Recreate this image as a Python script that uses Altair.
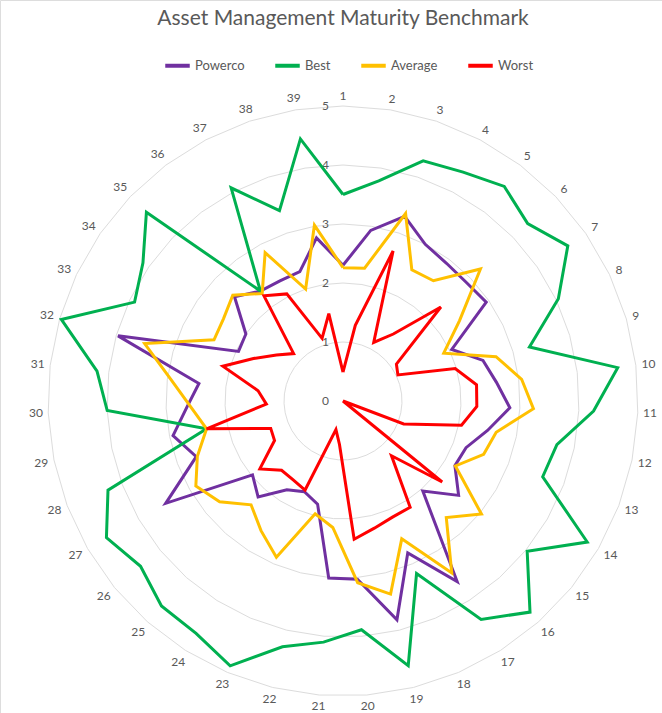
import math
import altair as alt
import pandas as pd

# ---------------- data ----------------
categories = [str(i) for i in range(1, 40)]
series_names = ["Powerco", "Best", "Average", "Worst"]
series_colors = ["#7030A0", "#00B050", "#FFC000", "#FF0000"]

powerco = [2.30, 2.93, 3.30, 3.00, 2.92, 2.90, 2.95, 2.04, 2.47, 2.62,
           2.83, 2.50, 2.23, 2.19, 2.53, 2.04, 3.62, 2.80, 3.82, 3.03,
           3.01, 1.80, 1.67, 1.78, 2.17, 1.98, 3.47, 2.66, 2.94, 2.65,
           2.46, 3.97, 1.96, 2.00, 2.55, 2.33, 2.30, 2.31, 2.80]
best = [3.50, 3.78, 4.29, 4.38, 4.55, 4.34, 4.63, 4.04, 3.29, 4.69,
        4.25, 3.70, 3.62, 4.78, 4.03, 4.78, 4.38, 3.18, 4.62, 3.89,
        4.10, 4.29, 4.88, 4.66, 4.64, 4.43, 4.63, 4.26, 2.36, 4.00,
        4.20, 4.97, 3.91, 4.12, 4.62, 2.33, 4.08, 3.40, 4.50]
average = [2.26, 2.28, 3.35, 2.51, 2.55, 3.23, 2.40, 1.89, 2.70, 3.05,
           3.23, 2.65, 2.55, 2.20, 3.03, 2.64, 3.45, 2.54, 3.37, 3.09,
           2.15, 1.97, 2.88, 2.60, 2.35, 2.70, 2.88, 2.64, 2.36, 2.58,
           2.93, 3.50, 2.42, 2.46, 2.59, 2.28, 2.84, 2.00, 3.02]
worst = [0.49, 1.30, 2.68, 1.12, 1.42, 2.30, 1.10, 1.03, 1.98, 2.28,
         2.27, 2.05, 1.10, 0.00, 2.17, 1.24, 2.13, 2.14, 2.22, 2.35,
         0.74, 0.50, 1.64, 1.58, 1.57, 1.82, 1.34, 1.31, 2.36, 1.30,
         1.45, 2.12, 1.68, 1.37, 1.16, 2.23, 2.05, 1.12, 1.50]
grid_levels = [0, 1, 2, 3, 4, 5]
title_text = "Asset Management Maturity Benchmark"

# ---------------- layout ----------------
W, H = 662, 713
CX, CY = 343, 401
UNIT = 59.0
FONT = "Lato"
GREY = "#595959"
N = len(categories)

xdom = [-CX / UNIT, (W - CX) / UNIT]
ydom = [-(H - CY) / UNIT, CY / UNIT]
xs = alt.Scale(domain=xdom, nice=False, zero=False)
ys = alt.Scale(domain=ydom, nice=False, zero=False)


def ang(k):
    return 2 * math.pi * k / N


rows = []
for name, vals in zip(series_names, [powerco, best, average, worst]):
    for j in range(N + 1):
        k = j % N
        v = vals[k]
        rows.append({"series": name, "idx": j, "x": v * math.sin(ang(k)),
                     "y": v * math.cos(ang(k)), "cat": categories[k], "value": v})
df = pd.DataFrame(rows)

grows = []
for lv in grid_levels[1:]:
    for j in range(N + 1):
        k = j % N
        grows.append({"level": lv, "idx": j, "x": lv * math.sin(ang(k)),
                      "y": lv * math.cos(ang(k))})
gdf = pd.DataFrame(grows)

lrows = []
for k, c in enumerate(categories):
    s, co = math.sin(ang(k)), math.cos(ang(k))
    w = 7.0 * len(c)
    r = (300 + abs(s) * w / 2 + abs(co) * 5.5) / UNIT
    lrows.append({"cat": c, "x": r * s, "y": r * co})
ldf = pd.DataFrame(lrows)

vdf = pd.DataFrame({"lab": [str(v) for v in grid_levels], "x": [0.0] * len(grid_levels),
                    "y": [float(v) for v in grid_levels]})

grid = alt.Chart(gdf).mark_line(color="#dcdcdc", strokeWidth=1).encode(
    x=alt.X("x:Q", scale=xs, axis=None),
    y=alt.Y("y:Q", scale=ys, axis=None),
    detail="level:N",
    order="idx:Q",
)

lines = alt.Chart(df).mark_line(strokeWidth=3, strokeJoin="miter").encode(
    x=alt.X("x:Q", scale=xs, axis=None),
    y=alt.Y("y:Q", scale=ys, axis=None),
    color=alt.Color(
        "series:N",
        sort=series_names,
        scale=alt.Scale(domain=series_names, range=series_colors),
        legend=alt.Legend(
            title=None, orient="none", legendX=163, legendY=51,
            direction="horizontal", symbolType="stroke", symbolStrokeWidth=4,
            symbolSize=600, labelFontSize=13, labelFont=FONT, labelColor=GREY,
            columnPadding=22, labelOffset=3,
        ),
    ),
    order="idx:Q",
)

value_labels = alt.Chart(vdf).mark_text(
    align="right", baseline="middle", dx=-14, fontSize=12, font=FONT, color=GREY
).encode(x=alt.X("x:Q", scale=xs, axis=None), y=alt.Y("y:Q", scale=ys, axis=None), text="lab:N")

cat_labels = alt.Chart(ldf).mark_text(
    align="center", baseline="middle", fontSize=12, font=FONT, color=GREY
).encode(x=alt.X("x:Q", scale=xs, axis=None), y=alt.Y("y:Q", scale=ys, axis=None), text="cat:N")

title = alt.Chart(pd.DataFrame({"t": [title_text]})).mark_text(
    align="center", baseline="middle", fontSize=21, font=FONT, color=GREY
).encode(x=alt.value(CX), y=alt.value(19), text="t:N")

chart = alt.layer(grid, value_labels, lines, cat_labels, title).properties(
    width=W, height=H, padding=0, autosize=alt.AutoSizeParams(type="none")
).configure_view(strokeWidth=0).configure(background="white")

chart.save("out.html", embed_options={"renderer": "svg", "actions": False})
